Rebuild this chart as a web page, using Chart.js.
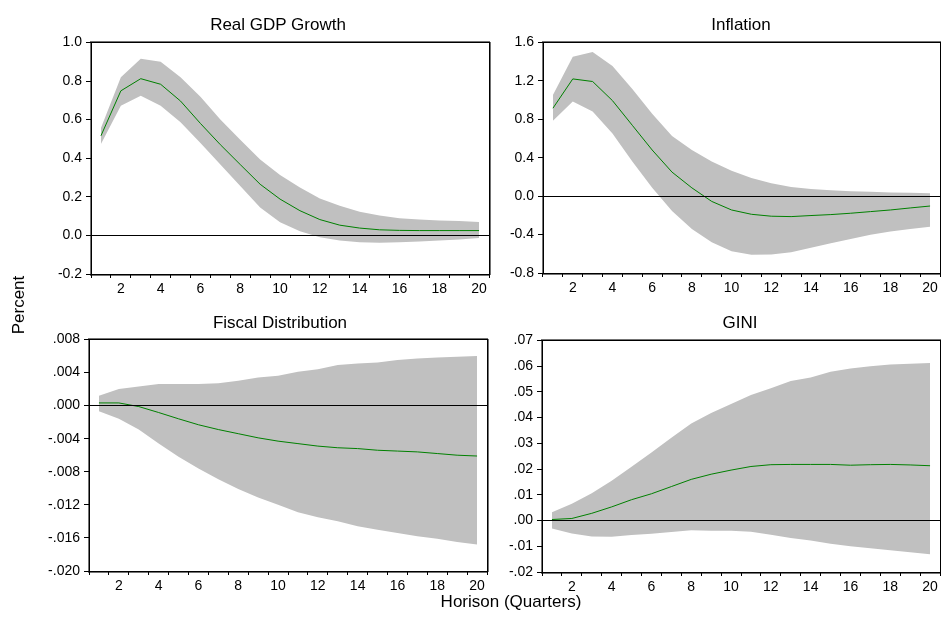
<!DOCTYPE html>
<html>
<head>
<meta charset="utf-8">
<script src="https://cdn.jsdelivr.net/npm/chart.js@4.4.1/dist/chart.umd.min.js"></script>
<style>
  body { margin: 0; background: #fff; }
  #wrap { position: relative; width: 941px; height: 618px; overflow: hidden; font-family: "Liberation Sans", Arial, sans-serif; }
  canvas { position: absolute; }
  .lbl { position: absolute; font-size: 17px; line-height: 20px; color: #000; text-align: center; white-space: nowrap; }
</style>
</head>
<body>
<div id="wrap">
  <canvas id="gdpChart" width="495" height="270" style="left:0;top:30px"></canvas>
  <canvas id="inflChart" width="446" height="270" style="left:495px;top:30px"></canvas>
  <canvas id="fiscChart" width="495" height="270" style="left:0;top:327px"></canvas>
  <canvas id="giniChart" width="446" height="270" style="left:495px;top:328px"></canvas>

  <div class="lbl" style="left:178px;top:15px;width:200px">Real GDP Growth</div>
  <div class="lbl" style="left:641px;top:15px;width:200px">Inflation</div>
  <div class="lbl" style="left:180px;top:313px;width:200px">Fiscal Distribution</div>
  <div class="lbl" style="left:640px;top:313px;width:200px">GINI</div>
  <div class="lbl" style="left:411px;top:592px;width:200px">Horison (Quarters)</div>
  <div class="lbl" style="left:-31px;top:295px;width:100px;transform:rotate(-90deg)">Percent</div>
</div>

<script>
const quarters = ['1','2','3','4','5','6','7','8','9','10','11','12','13','14','15','16','17','18','19','20'];

// Real GDP Growth
const gdp = [0.516, 0.749, 0.812, 0.783, 0.696, 0.58, 0.47, 0.367, 0.265, 0.188, 0.128, 0.082, 0.053, 0.038, 0.029, 0.026, 0.025, 0.025, 0.025, 0.025];
const gdpUpper = [0.556, 0.82, 0.915, 0.90, 0.82, 0.718, 0.60, 0.496, 0.393, 0.313, 0.248, 0.191, 0.154, 0.123, 0.103, 0.089, 0.082, 0.077, 0.074, 0.070];
const gdpLower = [0.474, 0.672, 0.723, 0.672, 0.586, 0.479, 0.368, 0.256, 0.145, 0.068, 0.022, -0.009, -0.026, -0.036, -0.038, -0.036, -0.031, -0.026, -0.021, -0.014];
const gdpTicks = ['-0.2', '0.0', '0.2', '0.4', '0.6', '0.8', '1.0'];

// Inflation
const infl = [0.915, 1.22, 1.193, 0.994, 0.737, 0.48, 0.25, 0.086, -0.055, -0.144, -0.189, -0.209, -0.213, -0.202, -0.192, -0.178, -0.161, -0.144, -0.123, -0.103];
const inflUpper = [1.052, 1.45, 1.50, 1.354, 1.114, 0.857, 0.627, 0.48, 0.36, 0.264, 0.189, 0.134, 0.096, 0.075, 0.062, 0.051, 0.045, 0.038, 0.034, 0.031];
const inflLower = [0.785, 0.984, 0.881, 0.651, 0.36, 0.086, -0.154, -0.343, -0.48, -0.573, -0.61, -0.607, -0.583, -0.538, -0.49, -0.446, -0.401, -0.367, -0.343, -0.319];
const inflTicks = ['-0.8', '-0.4', '0.0', '0.4', '0.8', '1.2', '1.6'];

// Fiscal Distribution
const fisc = [0.00032, 0.00032, -0.00012, -0.00084, -0.0016, -0.00232, -0.0029, -0.0034, -0.0039, -0.0043, -0.0046, -0.0049, -0.0051, -0.0052, -0.0054, -0.0055, -0.0056, -0.0058, -0.0060, -0.0061];
const fiscUpper = [0.0012, 0.002, 0.0023, 0.0026, 0.0026, 0.0026, 0.0027, 0.0030, 0.0034, 0.0036, 0.0041, 0.0044, 0.0049, 0.0051, 0.0052, 0.0055, 0.0057, 0.0058, 0.0059, 0.0060];
const fiscLower = [-0.0007, -0.0016, -0.0029, -0.0046, -0.0062, -0.0076, -0.0089, -0.0101, -0.0111, -0.0120, -0.0129, -0.0135, -0.0140, -0.0146, -0.0150, -0.0154, -0.0158, -0.0161, -0.0165, -0.0168];
const fiscTicks = ['-.020', '-.016', '-.012', '-.008', '-.004', '.000', '.004', '.008'];

// GINI
const gini = [0.0004, 0.0008, 0.0028, 0.0053, 0.0081, 0.0104, 0.0132, 0.016, 0.018, 0.0196, 0.021, 0.0217, 0.0218, 0.0218, 0.0218, 0.0215, 0.0217, 0.0218, 0.0216, 0.0213];
const giniUpper = [0.0032, 0.0065, 0.0106, 0.0155, 0.0209, 0.0264, 0.0322, 0.0377, 0.0418, 0.0453, 0.0488, 0.0514, 0.0542, 0.0556, 0.0578, 0.0591, 0.0600, 0.0606, 0.0609, 0.0612];
const giniLower = [-0.0031, -0.005, -0.0062, -0.0063, -0.0056, -0.0051, -0.0045, -0.0038, -0.004, -0.004, -0.0044, -0.0055, -0.0068, -0.0078, -0.009, -0.01, -0.0108, -0.0115, -0.0123, -0.0131];
const giniTicks = ['-.02', '-.01', '.00', '.01', '.02', '.03', '.04', '.05', '.06', '.07'];

// box around the plot area: a solid 1px line plus a half-tone pixel outside, like the original
const framePlugin = {
    id: 'frame',
    afterDraw(chart) {
        const a = chart.chartArea;
        const ctx = chart.ctx;
        const l = Math.round(a.left), t = Math.round(a.top);
        const r = Math.min(Math.round(a.right), chart.width - 1), b = Math.round(a.bottom);
        ctx.save();
        ctx.fillStyle = '#000';
        ctx.fillRect(l, t, r - l + 1, 1);
        ctx.fillRect(l, b, r - l + 1, 1);
        ctx.fillRect(l, t, 1, b - t + 1);
        ctx.fillRect(r, t, 1, b - t + 1);
        ctx.fillStyle = 'rgba(0,0,0,0.55)';
        ctx.fillRect(l - 1, t - 1, r - l + 2, 1);
        ctx.fillRect(l - 1, b + 1, r - l + 2, 1);
        ctx.fillRect(l - 1, t, 1, b - t + 1);
        ctx.fillRect(r + 1, t, 1, b - t + 1);
        ctx.restore();
    }
};

const font = { family: '"Liberation Sans", Arial, sans-serif', size: 14 };

function makePanel(id, mid, upper, lower, yMin, yMax, yStep, yTicks, axisWidth, pad) {
    const ctx = document.getElementById(id).getContext('2d');
    return new Chart(ctx, {
        type: 'line',
        data: {
            labels: quarters,
            datasets: [{
                data: mid,
                borderColor: '#008000',
                borderWidth: 1,
                pointRadius: 0,
                fill: false
            }, {
                data: upper,
                borderWidth: 0,
                borderColor: 'rgba(0,0,0,0)',
                backgroundColor: '#c0c0c0',
                pointRadius: 0,
                fill: '+1'
            }, {
                data: lower,
                borderWidth: 0,
                borderColor: 'rgba(0,0,0,0)',
                pointRadius: 0,
                fill: false
            }]
        },
        options: {
            responsive: false,
            animation: false,
            layout: { padding: pad },
            plugins: {
                legend: { display: false },
                tooltip: { enabled: false }
            },
            scales: {
                x: {
                    type: 'category',
                    offset: true,
                    border: { display: false },
                    grid: {
                        offset: true,
                        drawOnChartArea: false,
                        drawTicks: true,
                        tickLength: 4,
                        tickColor: '#000'
                    },
                    ticks: {
                        autoSkip: false,
                        maxRotation: 0,
                        padding: 3,
                        color: '#000',
                        font: font,
                        callback: (val, i) => (i % 2 === 1 ? quarters[i] : '')
                    },
                    afterFit: scale => { scale.height = 24; }
                },
                y: {
                    min: yMin,
                    max: yMax,
                    border: { display: false },
                    grid: {
                        z: 1,
                        drawOnChartArea: true,
                        tickLength: 5,
                        tickColor: '#000',
                        color: c => (c.tick && Math.abs(c.tick.value) < 1e-9 ? '#000' : 'rgba(0,0,0,0)')
                    },
                    ticks: {
                        stepSize: yStep,
                        padding: 4,
                        color: '#000',
                        font: font,
                        callback: (val, i) => yTicks[i]
                    },
                    afterFit: scale => { scale.width = axisWidth; }
                }
            }
        },
        plugins: [framePlugin]
    });
}

makePanel('gdpChart', gdp, gdpUpper, gdpLower, -0.2, 1.0, 0.2, gdpTicks, 91,
    { left: 0, top: 10, right: 6, bottom: 2 });
makePanel('inflChart', infl, inflUpper, inflLower, -0.8, 1.6, 0.4, inflTicks, 48,
    { left: 0, top: 10, right: 1, bottom: 3 });
makePanel('fiscChart', fisc, fiscUpper, fiscLower, -0.020, 0.008, 0.004, fiscTicks, 89,
    { left: 0, top: 10, right: 8, bottom: 2 });
makePanel('giniChart', gini, giniUpper, giniLower, -0.02, 0.07, 0.01, giniTicks, 47,
    { left: 0, top: 10, right: 1, bottom: 2 });
</script>
</body>
</html>
